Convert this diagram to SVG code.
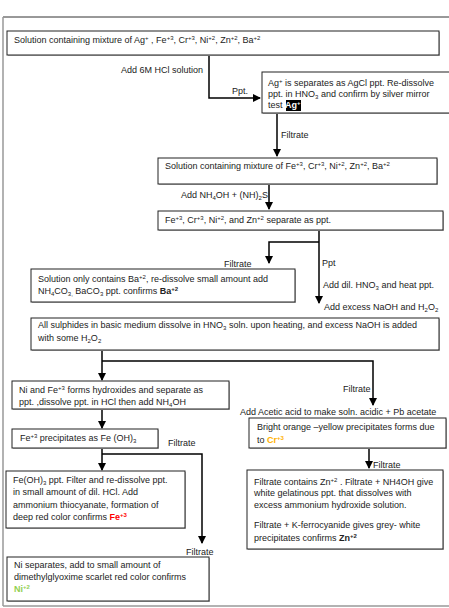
<svg xmlns="http://www.w3.org/2000/svg" width="449" height="608" viewBox="0 0 449 608">
<style>
text{font-family:"Liberation Sans",Arial,sans-serif;font-size:9px;fill:#222}
.box{fill:#fff;stroke:#222;stroke-width:1}
.sh{fill:#bbb;stroke:none}
.c{fill:none;stroke:#000;stroke-width:1.5}
.b{font-weight:bold}
</style>
<defs>
<marker id="ah" viewBox="0 0 8 8" refX="7" refY="4" markerWidth="8" markerHeight="8" markerUnits="userSpaceOnUse" orient="auto">
<path d="M0,0 L8,4 L0,8 Z" fill="#000"/>
</marker>
</defs>
<rect width="449" height="608" fill="#fff"/>
<g id="frame">
<line x1="3" y1="17" x2="449" y2="17" stroke="#333" stroke-width="1"/>
<line x1="3" y1="17" x2="3" y2="606" stroke="#999" stroke-width="1.5"/>
<line x1="3" y1="606" x2="449" y2="606" stroke="#999" stroke-width="1.5"/>
</g>
<g id="connectors">
<path class="c" d="M209,55 V98 H260" marker-end="url(#ah)"/>
<path class="c" d="M277,113 V156" marker-end="url(#ah)"/>
<path class="c" d="M269,184 V209" marker-end="url(#ah)"/>
<path class="c" d="M319,230 V303" marker-end="url(#ah)"/>
<path class="c" d="M319,242 H269 V263" marker-end="url(#ah)"/>
<path class="c" d="M102,350 V380" marker-end="url(#ah)"/>
<path class="c" d="M102,361 H373 V405" marker-end="url(#ah)"/>
<path class="c" d="M102,409 V428" marker-end="url(#ah)"/>
<path class="c" d="M102,448 V470" marker-end="url(#ah)"/>
<path class="c" d="M102,454 H202 V543" marker-end="url(#ah)"/>
<path class="c" d="M369,448 V468" marker-end="url(#ah)"/>
<text x="203" y="73" text-anchor="end">Add  6M HCl solution</text>
<text x="232" y="94">Ppt.</text>
<text x="281" y="138">Filtrate</text>
<text x="181" y="198">Add NH<tspan font-size="6" dy="2">4</tspan><tspan dy="-2">OH + (NH)</tspan><tspan font-size="6" dy="2">2</tspan><tspan dy="-2">S</tspan></text>
<text x="224" y="267">Filtrate</text>
<text x="322" y="266">Ppt</text>
<text x="323" y="288">Add dil. HNO<tspan font-size="6" dy="2">3</tspan><tspan dy="-2"> and heat ppt.</tspan></text>
<text x="324" y="310">Add excess NaOH and H<tspan font-size="6" dy="2">2</tspan><tspan dy="-2">O</tspan><tspan font-size="6" dy="2">2</tspan></text>
<text x="343" y="392">Filtrate</text>
<text x="168" y="446">Filtrate</text>
<text x="186" y="555">Filtrate</text>
<text x="240" y="415">Add Acetic acid to make soln. acidic + Pb acetate</text>
<text x="373" y="468">Filtrate</text>
</g>
<g id="n1">
<rect class="sh" x="8" y="32" width="432" height="24"/>
<rect class="box" x="7" y="31" width="432" height="24"/>
<text x="14" y="43">Solution containing mixture of Ag<tspan font-size="6" dy="-3">+</tspan><tspan dy="3"> , Fe</tspan><tspan font-size="6" dy="-3">+3</tspan><tspan dy="3">, Cr</tspan><tspan font-size="6" dy="-3">+3</tspan><tspan dy="3">, Ni</tspan><tspan font-size="6" dy="-3">+2</tspan><tspan dy="3">, Zn</tspan><tspan font-size="6" dy="-3">+2</tspan><tspan dy="3">, Ba</tspan><tspan font-size="6" dy="-3">+2</tspan></text>
</g>
<g id="n2">
<rect class="sh" x="263" y="73" width="190" height="41"/>
<rect class="box" x="262" y="72" width="190" height="41"/>
<text x="268" y="86">Ag<tspan font-size="6" dy="-3">+</tspan><tspan dy="3"> is separates as AgCl ppt. Re-dissolve</tspan></text>
<text x="268" y="97">ppt.  in HNO<tspan font-size="6" dy="2">3</tspan><tspan dy="-2"> and confirm by silver mirror</tspan></text>
<rect x="286" y="100" width="15" height="11" fill="#000"/>
<text x="268" y="108">test <tspan class="b" fill="#fff">Ag</tspan><tspan class="b" fill="#fff" font-size="6" dy="-3">+</tspan></text>
</g>
<g id="n3">
<rect class="sh" x="159" y="159" width="279" height="26"/>
<rect class="box" x="158" y="158" width="279" height="26"/>
<text x="165" y="169">Solution containing mixture of Fe<tspan font-size="6" dy="-3">+3</tspan><tspan dy="3">, Cr</tspan><tspan font-size="6" dy="-3">+3</tspan><tspan dy="3">, Ni</tspan><tspan font-size="6" dy="-3">+2</tspan><tspan dy="3">, Zn</tspan><tspan font-size="6" dy="-3">+2</tspan><tspan dy="3">, Ba</tspan><tspan font-size="6" dy="-3">+2</tspan></text>
</g>
<g id="n4">
<rect class="sh" x="159" y="212" width="285" height="19"/>
<rect class="box" x="158" y="211" width="285" height="19"/>
<text x="165" y="223">Fe<tspan font-size="6" dy="-3">+3</tspan><tspan dy="3">, Cr</tspan><tspan font-size="6" dy="-3">+3</tspan><tspan dy="3">, Ni</tspan><tspan font-size="6" dy="-3">+2</tspan><tspan dy="3">, and Zn</tspan><tspan font-size="6" dy="-3">+2</tspan><tspan dy="3"> separate as ppt.</tspan></text>
</g>
<g id="n5">
<rect class="sh" x="32" y="270" width="264" height="33"/>
<rect class="box" x="31" y="269" width="264" height="33"/>
<text x="38" y="282">Solution only contains Ba<tspan font-size="6" dy="-3">+2</tspan><tspan dy="3">, re-dissolve small amount add</tspan></text>
<text x="38" y="294">NH<tspan font-size="6" dy="2">4</tspan><tspan dy="-2">CO</tspan><tspan font-size="6" dy="2">3,</tspan><tspan dy="-2"> BaCO</tspan><tspan font-size="6" dy="2">3</tspan><tspan dy="-2"> ppt. confirms </tspan><tspan class="b">Ba</tspan><tspan class="b" font-size="6" dy="-3">+2</tspan></text>
</g>
<g id="n6">
<rect class="sh" x="32" y="319" width="408" height="32"/>
<rect class="box" x="31" y="318" width="408" height="32"/>
<text x="38" y="328">All sulphides in basic medium dissolve in HNO<tspan font-size="6" dy="2">3</tspan><tspan dy="-2"> soln. upon heating, and excess NaOH is added</tspan></text>
<text x="38" y="341">with some H<tspan font-size="6" dy="2">2</tspan><tspan dy="-2">O</tspan><tspan font-size="6" dy="2">2</tspan></text>
</g>
<g id="n7">
<rect class="sh" x="13" y="382" width="217" height="28"/>
<rect class="box" x="12" y="381" width="217" height="28"/>
<text x="19" y="393">Ni and Fe<tspan font-size="6" dy="-3">+3</tspan><tspan dy="3"> forms hydroxides and separate as</tspan></text>
<text x="19" y="405">ppt. ,dissolve ppt. in HCl then add NH<tspan font-size="6" dy="2">4</tspan><tspan dy="-2">OH</tspan></text>
</g>
<g id="n8">
<rect class="sh" x="13" y="430" width="146" height="19"/>
<rect class="box" x="12" y="429" width="146" height="19"/>
<text x="20" y="441">Fe<tspan font-size="6" dy="-3">+3</tspan><tspan dy="3"> precipitates as Fe (OH)</tspan><tspan font-size="6" dy="2">3</tspan></text>
</g>
<g id="n9">
<rect class="sh" x="7" y="472" width="179" height="57"/>
<rect class="box" x="6" y="471" width="179" height="57"/>
<text x="13" y="483">Fe(OH)<tspan font-size="6" dy="2">3</tspan><tspan dy="-2"> ppt. Filter and re-dissolve ppt.</tspan></text>
<text x="13" y="495">in small amount of dil. HCl. Add</text>
<text x="13" y="508">ammonium thiocyanate,  formation of</text>
<text x="13" y="520">deep red color confirms <tspan class="b" fill="#ff0000">Fe</tspan><tspan class="b" fill="#ff0000" font-size="6" dy="-3">+3</tspan></text>
</g>
<g id="n10">
<rect class="sh" x="8" y="558" width="202" height="44"/>
<rect class="box" x="7" y="557" width="202" height="44"/>
<text x="14" y="568">Ni separates, add to small amount of</text>
<text x="14" y="580">dimethylglyoxime scarlet red color confirms</text>
<text x="14" y="592"><tspan class="b" fill="#92d050">Ni</tspan><tspan class="b" fill="#92d050" font-size="6" dy="-3">+2</tspan></text>
</g>
<g id="n11">
<rect class="sh" x="250" y="419" width="197" height="30"/>
<rect class="box" x="249" y="418" width="197" height="30"/>
<text x="257" y="430">Bright orange –yellow precipitates forms due</text>
<text x="257" y="443">to <tspan class="b" fill="#ffb000">Cr</tspan><tspan class="b" fill="#ffb000" font-size="6" dy="-3">+3</tspan></text>
</g>
<g id="n12">
<rect class="sh" x="248" y="471" width="196" height="79"/>
<rect class="box" x="247" y="470" width="196" height="79"/>
<text x="254" y="485">Filtrate contains Zn<tspan font-size="6" dy="-3">+2</tspan><tspan dy="3"> . Filtrate + NH4OH give</tspan></text>
<text x="254" y="496">white gelatinous ppt. that dissolves with</text>
<text x="254" y="508">excess ammonium hydroxide solution.</text>
<text x="254" y="528">Filtrate + K-ferrocyanide gives grey- white</text>
<text x="254" y="541">precipitates confirms <tspan class="b">Zn</tspan><tspan class="b" font-size="6" dy="-3">+2</tspan></text>
</g>
</svg>
